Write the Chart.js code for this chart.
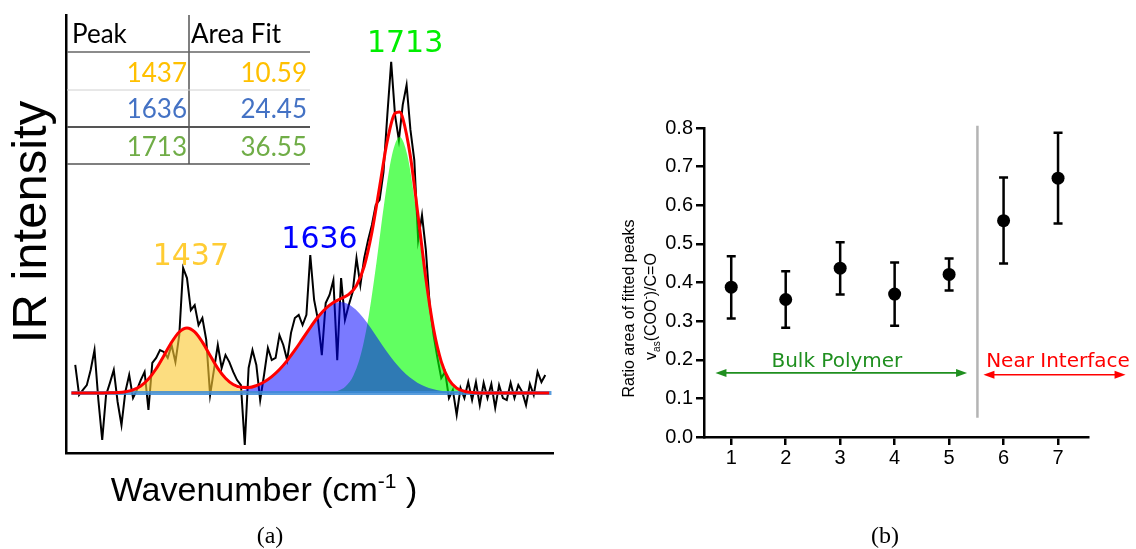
<!DOCTYPE html>
<html><head><meta charset="utf-8">
<script src="https://cdn.jsdelivr.net/npm/chart.js@4.4.1/dist/chart.umd.min.js"></script>
<style>
html,body{margin:0;padding:0;background:#fff;width:1136px;height:549px;overflow:hidden;}
#ca{position:absolute;left:0;top:0;}
#cb{position:absolute;left:570px;top:0;}
</style></head>
<body>
<canvas id="ca" width="570" height="549"></canvas>
<canvas id="cb" width="566" height="549"></canvas>
<script>
// ---------- Panel (a) data ----------
const specX = [1292,1297,1302,1307,1312,1317,1322,1327,1332,1337,1342,1347,1352,1357,1362,1367,1372,1377,1382,1387,1392,1397,1402,1407,1412,1417,1422,1427,1432,1437,1442,1447,1452,1457,1462,1467,1472,1477,1482,1487,1492,1497,1502,1507,1512,1517,1522,1527,1532,1537,1542,1547,1552,1557,1562,1567,1572,1577,1582,1587,1592,1597,1602,1607,1612,1617,1622,1627,1632,1637,1642,1647,1652,1657,1662,1667,1672,1677,1682,1687,1692,1697,1702,1707,1712,1717,1722,1727,1732,1737,1742,1747,1752,1757,1762,1767,1772,1777,1782,1787,1792,1797,1802,1807,1812,1817,1822,1827,1832,1837,1842,1847,1852,1857,1862,1867,1872,1877,1882,1887,1892,1897,1902];
const specY = [10.0,-0.7,1.1,2.8,8.2,15.3,-2.5,-16.7,-0.7,3.6,
8.2,-3.2,-11.4,0.4,6.4,-1.8,1.1,4.6,7.5,-6.0,
10.7,12.5,15.3,14.6,12.5,17.1,11.0,20.6,44.5,40.9,
29.5,31.3,24.2,26.7,18.9,-0.7,8.2,17.1,8.9,13.5,
11.0,7.5,4.6,2.8,-18.5,8.9,15.3,10.0,-2.5,6.4,
16.0,11.7,12.5,20.6,17.1,11.7,21.4,26.7,27.8,24.2,
27.8,49.1,33.1,26.0,13.5,32.0,34.9,40.2,11.7,40.9,
26.0,31.3,35.9,48.0,38.4,48.0,54.4,59.8,66.9,68.7,
78.6,98.9,117.8,98.9,90.0,102.5,109.6,93.6,82.9,54.4,
63.3,50.9,31.3,20.6,12.5,5.3,7.5,-1.8,1.1,-7.8,
1.8,-1.8,3.9,-2.5,3.9,-4.3,3.6,-1.8,3.2,-5.3,
2.8,-1.8,-2.5,3.6,-1.8,2.8,0.4,-4.3,3.2,-0.7,
7.5,3.9,6.4];

const fitX = [1287,1297,1307,1317,1327,1337,1347,1357,1367,1377,1387,1397,1407,1417,1427,1437,1447,1457,1467,1477,1487,1497,1507,1517,1527,1537,1547,1557,1567,1577,1587,1597,1607,1617,1627,1637,1647,1657,1667,1677,1687,1697,1707,1713,1717,1727,1737,1747,1757,1767,1777,1787,1797,1807,1817,1827,1837,1847,1857,1867,1877,1887,1897,1907];
const fitY = [0,0,0,0,0,0.05,0.16,0.45,1.13,2.52,4.97,8.62,13.29,18.06,21.71,23.11,21.72,18.09,13.36,8.75,5.23,3.01,2.01,1.95,2.62,3.91,5.81,8.36,11.53,15.22,19.25,23.30,27.02,30.06,32.21,33.63,35.10,38.24,45.10,57.20,73.42,89.75,99.55,100.0,97.80,84.07,62.84,40.74,22.85,11.18,4.73,1.73,0.62,0.15,0.03,0,0,0,0,0,0,0,0,0];

const peak1437X = [1337,1347,1357,1367,1377,1387,1397,1407,1417,1427,1437,1447,1457,1467,1477,1487,1497,1507,1517,1527,1537];
const peak1437Y = [0.05,0.16,0.45,1.13,2.52,4.97,8.62,13.29,18.06,21.71,23.10,21.71,18.06,13.29,8.62,4.97,2.52,1.13,0.45,0.16,0.05];

const peak1636X = [1466,1476,1486,1496,1506,1516,1526,1536,1546,1556,1566,1576,1586,1596,1606,1616,1626,1636,1646,1656,1666,1676,1686,1696,1706,1716,1726,1736,1746,1756,1766,1776,1786,1796,1806];
const peak1636Y = [0.06,0.12,0.25,0.46,0.83,1.42,2.35,3.69,5.57,8.07,11.18,14.84,18.82,22.91,26.67,29.71,31.70,32.40,31.70,29.71,26.67,22.91,18.82,14.84,11.18,8.07,5.57,3.69,2.35,1.42,0.83,0.46,0.25,0.12,0.06];

const peak1713X = [1613,1623,1633,1643,1653,1663,1673,1683,1693,1703,1713,1723,1733,1743,1753,1763,1773,1783,1793,1803,1813];
const peak1713Y = [0.05,0.2,0.8,2.4,6.2,14.1,27.7,46.6,67.6,84.6,91.1,84.6,67.6,46.6,27.7,14.1,6.2,2.4,0.8,0.2,0.05];

const baseX = [1287,1910];
const baseY = [0,0];

const peakLabels = ['1437','1636','1713'];
const peakLabelX = [1442,1609,1720];
const peakLabelY = [45.6,51.6,121.4];
const peakLabelColors = ['#ffcc33','#0000ff','#00ee00'];

const tableHeader = ['Peak','Area Fit'];
const tablePeaks = ['1437','1636','1713'];
const tableAreas = ['10.59','24.45','36.55'];
const tableColors = ['#ffc000','#4472c4','#70ad47'];

// ---------- Panel (b) data ----------
const samples = [1,2,3,4,5,6,7];
const ratioMean = [0.388,0.356,0.437,0.370,0.421,0.560,0.670];
const ratioLow  = [0.307,0.283,0.369,0.288,0.379,0.449,0.553];
const ratioHigh = [0.468,0.429,0.504,0.452,0.462,0.672,0.788];
const yTicksB = [0,0.1,0.2,0.3,0.4,0.5,0.6,0.7,0.8];

const zip = (xs, ys) => xs.map((x, i) => ({x: x, y: ys[i]}));

// ---------- Panel (a) ----------
const panelA = {
  id: 'panelA',
  afterDraw(chart) {
    const {ctx, chartArea: ca, scales: {x, y}} = chart;
    ctx.save();
    // peak labels
    ctx.font = '30px "DejaVu Sans"';
    ctx.textAlign = 'center';
    ctx.textBaseline = 'alphabetic';
    peakLabels.forEach((t, i) => {
      ctx.fillStyle = peakLabelColors[i];
      ctx.fillText(t, x.getPixelForValue(peakLabelX[i]), y.getPixelForValue(peakLabelY[i]));
    });
    // table
    const L = ca.left, T = ca.top;
    const colX = L + 123, R = L + 244;
    ctx.strokeStyle = '#555'; ctx.lineWidth = 1.5;
    ctx.beginPath(); ctx.moveTo(colX, T); ctx.lineTo(colX, T + 149); ctx.stroke();
    const hl = [[T + 37, '#666', 1.5], [T + 75, '#d0d0d0', 1], [T + 112, '#555', 2], [T + 149, '#555', 1.5]];
    hl.forEach(([yy, c, w]) => {
      ctx.strokeStyle = c; ctx.lineWidth = w;
      ctx.beginPath(); ctx.moveTo(L + 1, yy); ctx.lineTo(R, yy); ctx.stroke();
    });
    ctx.font = '26px Lato';
    ctx.fillStyle = '#000';
    ctx.textAlign = 'left';
    ctx.fillText(tableHeader[0], L + 6, T + 28);
    ctx.fillText(tableHeader[1], colX + 2, T + 28);
    const rowBase = [T + 67, T + 103, T + 141];
    ctx.textAlign = 'right';
    tablePeaks.forEach((p, i) => {
      ctx.fillStyle = tableColors[i];
      ctx.fillText(p, colX - 2, rowBase[i]);
      ctx.fillText(tableAreas[i], R - 3, rowBase[i]);
    });
    // y title
    ctx.save();
    ctx.translate(46, (ca.top + ca.bottom) / 2 - 12);
    ctx.rotate(-Math.PI / 2);
    ctx.textAlign = 'center';
    ctx.fillStyle = '#000';
    ctx.font = '49px "Liberation Sans"';
    ctx.fillText('IR intensity', 0, 0);
    ctx.restore();
    // x title with superscript
    const big = '34px "Liberation Sans"', sm = '21px "Liberation Sans"';
    const parts = [['Wavenumber (cm', big, 0], ['-1', sm, -13], [' )', big, 0]];
    let tw = 0;
    parts.forEach(p => { ctx.font = p[1]; tw += ctx.measureText(p[0]).width; });
    let xx = 264 - tw / 2;
    ctx.textAlign = 'left';
    ctx.fillStyle = '#000';
    parts.forEach(p => { ctx.font = p[1]; ctx.fillText(p[0], xx, 501 + p[2]); xx += ctx.measureText(p[0]).width; });
    // caption
    ctx.font = '24px "Liberation Serif"';
    ctx.textAlign = 'center';
    ctx.fillText('(a)', 270, 543);
    ctx.restore();
  }
};

const fillDs = (label, xs, ys, color) => ({
  label, data: zip(xs, ys), borderColor: 'transparent', borderWidth: 0,
  backgroundColor: color, fill: 'origin', pointRadius: 0, cubicInterpolationMode: 'monotone'
});

new Chart(document.getElementById('ca'), {
  type: 'line',
  data: {
    datasets: [
      {label: 'Total fit', data: zip(fitX, fitY), borderColor: '#ff0000', borderWidth: 3, pointRadius: 0, fill: false, cubicInterpolationMode: 'monotone'},
      {label: 'Baseline', data: zip(baseX, baseY), borderColor: 'rgba(60,140,215,0.85)', borderWidth: 4, pointRadius: 0, fill: false},
      fillDs('1437', peak1437X, peak1437Y, 'rgba(250,200,50,0.62)'),
      fillDs('1636', peak1636X, peak1636Y, 'rgba(0,0,255,0.52)'),
      fillDs('1713', peak1713X, peak1713Y, 'rgba(0,255,0,0.62)'),
      {label: 'Spectrum', data: zip(specX, specY), borderColor: '#000', borderWidth: 2, pointRadius: 0, fill: false, tension: 0}
    ]
  },
  options: {
    responsive: false, animation: false, events: [],
    layout: {padding: {left: 66, top: 15, right: 17, bottom: 96}},
    plugins: {legend: {display: false}, tooltip: {enabled: false}},
    scales: {
      x: {type: 'linear', min: 1280, max: 1912, ticks: {display: false},
          grid: {display: true, drawOnChartArea: false, drawTicks: false},
          border: {display: true, color: '#000', width: 2.5},
          afterFit(s) { s.height = 0; }},
      y: {type: 'linear', min: -21.35, max: 134.5, ticks: {display: false},
          grid: {display: true, drawOnChartArea: false, drawTicks: false},
          border: {display: true, color: '#000', width: 2.5},
          afterFit(s) { s.width = 0; }}
    }
  },
  plugins: [panelA]
});

// ---------- Panel (b) ----------
function arrow(ctx, x1, x2, yy, color) {
  ctx.strokeStyle = color; ctx.fillStyle = color; ctx.lineWidth = 1.6;
  ctx.beginPath(); ctx.moveTo(x1 + 5, yy); ctx.lineTo(x2 - 5, yy); ctx.stroke();
  ctx.beginPath(); ctx.moveTo(x1, yy); ctx.lineTo(x1 + 11, yy - 4); ctx.lineTo(x1 + 11, yy + 4); ctx.closePath(); ctx.fill();
  ctx.beginPath(); ctx.moveTo(x2, yy); ctx.lineTo(x2 - 11, yy - 4); ctx.lineTo(x2 - 11, yy + 4); ctx.closePath(); ctx.fill();
}

const panelB = {
  id: 'panelB',
  beforeDatasetsDraw(chart) {
    const {ctx, scales: {x, y}} = chart;
    ctx.save();
    ctx.strokeStyle = '#000'; ctx.lineWidth = 2.5;
    samples.forEach((s, i) => {
      const px = x.getPixelForValue(s);
      const yl = y.getPixelForValue(ratioLow[i]), yh = y.getPixelForValue(ratioHigh[i]);
      ctx.beginPath();
      ctx.moveTo(px, yl); ctx.lineTo(px, yh);
      ctx.moveTo(px - 4.5, yl); ctx.lineTo(px + 4.5, yl);
      ctx.moveTo(px - 4.5, yh); ctx.lineTo(px + 4.5, yh);
      ctx.stroke();
    });
    // separator
    ctx.strokeStyle = '#b4b4b4'; ctx.lineWidth = 2.5;
    ctx.beginPath();
    ctx.moveTo(x.getPixelForValue(5.52), y.getPixelForValue(0.05));
    ctx.lineTo(x.getPixelForValue(5.52), y.getPixelForValue(0.806));
    ctx.stroke();
    ctx.restore();
  },
  afterDraw(chart) {
    const {ctx, chartArea: ca, scales: {x, y}} = chart;
    ctx.save();
    arrow(ctx, x.getPixelForValue(0.71), x.getPixelForValue(5.33), y.getPixelForValue(0.166), '#1f8f1f');
    arrow(ctx, x.getPixelForValue(5.63), x.getPixelForValue(8.24), y.getPixelForValue(0.161), '#ff0000');
    ctx.font = '20px "DejaVu Sans"';
    ctx.textBaseline = 'alphabetic';
    ctx.fillStyle = '#1f8f1f'; ctx.textAlign = 'center';
    ctx.fillText('Bulk Polymer', x.getPixelForValue(2.94), y.getPixelForValue(0.182));
    ctx.fillStyle = '#ff0000'; ctx.textAlign = 'left';
    ctx.fillText('Near Interface', x.getPixelForValue(5.68), y.getPixelForValue(0.180));
    // y title (two lines)
    const cy = (ca.top + ca.bottom) / 2 + 26;
    ctx.fillStyle = '#000';
    ctx.save();
    ctx.translate(ca.left - 70, cy);
    ctx.rotate(-Math.PI / 2);
    ctx.textAlign = 'center';
    ctx.font = '16px "Liberation Sans"';
    ctx.fillText('Ratio area of fitted peaks', 0, 0);
    ctx.restore();
    ctx.save();
    ctx.translate(ca.left - 48, cy - 2);
    ctx.rotate(-Math.PI / 2);
    ctx.textAlign = 'left';
    const f16 = '16px "Liberation Sans"', f10 = '10px "Liberation Sans"';
    const parts = [['v', f16, 0], ['as', f10, 4], ['(COO', f16, 0], ['-', f10, -7], [')/C=O', f16, 0]];
    let tw = 0;
    parts.forEach(p => { ctx.font = p[1]; tw += ctx.measureText(p[0]).width; });
    let xx = -tw / 2;
    parts.forEach(p => { ctx.font = p[1]; ctx.fillText(p[0], xx, p[2]); xx += ctx.measureText(p[0]).width; });
    ctx.restore();
    // caption
    ctx.font = '24px "Liberation Serif"';
    ctx.textAlign = 'center';
    ctx.fillText('(b)', 315, 543);
    ctx.restore();
  }
};

const tickFont = {family: 'Liberation Sans, Arial, sans-serif', size: 20, weight: 'normal'};

new Chart(document.getElementById('cb'), {
  type: 'scatter',
  data: {datasets: [{label: 'Ratio', data: zip(samples, ratioMean), pointRadius: 6.5,
    pointBackgroundColor: '#000', pointBorderColor: '#000', pointBorderWidth: 0}]},
  options: {
    responsive: false, animation: false, events: [],
    layout: {padding: {left: 0, right: 48, top: 128, bottom: 0}},
    plugins: {legend: {display: false}, tooltip: {enabled: false}},
    scales: {
      x: {type: 'linear', min: 0.5, max: 7.55,
          afterBuildTicks(s) { s.ticks = samples.map(v => ({value: v})); },
          afterFit(s) { s.height = 112; },
          grid: {display: true, drawOnChartArea: false, drawTicks: true, tickLength: 8, lineWidth: 2.5, color: '#000'},
          border: {display: true, color: '#000', width: 2.5},
          ticks: {color: '#000', padding: 1, font: tickFont, callback: v => String(v), maxRotation: 0}},
      y: {type: 'linear', min: 0, max: 0.8,
          afterBuildTicks(s) { s.ticks = yTicksB.map(v => ({value: v})); },
          afterFit(s) { s.width = 134; },
          grid: {display: true, drawOnChartArea: false, drawTicks: true, tickLength: 8, lineWidth: 2.5, color: '#000'},
          border: {display: true, color: '#000', width: 2.5},
          ticks: {color: '#000', padding: 3, font: tickFont, callback: v => v.toFixed(1)}}
    }
  },
  plugins: [panelB]
});
</script>
</body></html>
